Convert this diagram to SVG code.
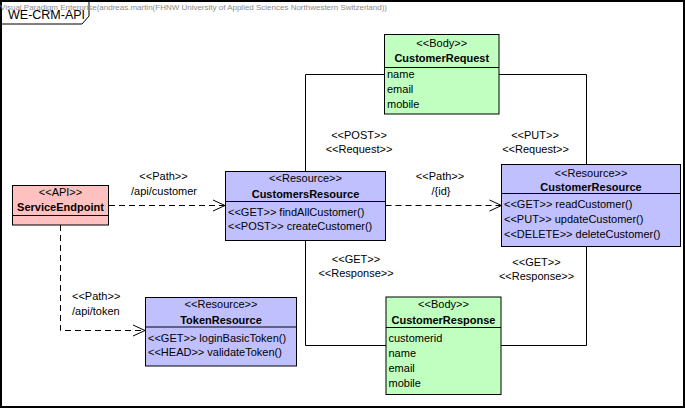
<svg xmlns="http://www.w3.org/2000/svg" width="685" height="408" viewBox="0 0 685 408">
  <style>
    text { font-family: "Liberation Sans", Arial, sans-serif; font-size: 11px; fill: #000; }
    .c { text-anchor: middle; }
    .b { font-weight: bold; }
    .box { stroke: #000; stroke-width: 1; }
    .api { fill: #ffc0c0; }
    .res { fill: #c0c0ff; }
    .body { fill: #c0ffc0; }
    .sep { stroke: #000; stroke-width: 1; }
    .assoc { fill: none; stroke: #000; stroke-width: 1; }
    .dep { fill: none; stroke: #000; stroke-width: 1; stroke-dasharray: 6 4; marker-end: url(#open); }
    .wm { font-size: 7.5px; fill: #8c8c8c; }
  </style>
  <defs>
    <marker id="open" markerUnits="userSpaceOnUse" markerWidth="14" markerHeight="13" viewBox="-1 -1 14 13" refX="12" refY="5.5" orient="auto">
      <path d="M0,0 L12,5.5 L0,11" fill="none" stroke="#000" stroke-width="1" stroke-dasharray="none"/>
    </marker>
  </defs>

  <rect width="685" height="408" fill="#fff"/>

  <!-- package frame and its name tab -->
  <g id="frame">
    <rect x="1" y="1" width="683" height="406" fill="none" stroke="#000" stroke-width="2"/>
    <polyline points="1,24 82,24 89,16 89,1" fill="none" stroke="#000" stroke-width="1"/>
    <text x="8" y="18.5" style="font-size:12.5px">WE-CRM-API</text>
  </g>
  <text class="wm" x="0" y="10" textLength="387" lengthAdjust="spacingAndGlyphs">Visual Paradigm Enterprise(andreas.martin(FHNW University of Applied Sciences Northwestern Switzerland))</text>

  <!-- connectors -->
  <g id="connectors">
    <path class="assoc" d="M305.5,171.5 V74.5 H384.5"/>
    <path class="assoc" d="M499,74.5 H586.5 V164.5"/>
    <path class="assoc" d="M305.5,241 V345.5 H386"/>
    <path class="assoc" d="M586.5,247 V345.5 H501"/>
    <path class="dep" d="M109,205.5 H225"/>
    <path class="dep" d="M385.5,205.5 H501.5"/>
    <path class="dep" d="M60.5,225 V330.5 H145"/>

    <text class="c" x="163.5" y="180">&lt;&lt;Path&gt;&gt;</text>
    <text class="c" x="164" y="195">/api/customer</text>
    <text class="c" x="440" y="180">&lt;&lt;Path&gt;&gt;</text>
    <text class="c" x="441" y="195">/{id}</text>
    <text x="72" y="300">&lt;&lt;Path&gt;&gt;</text>
    <text x="72" y="315">/api/token</text>
    <text class="c" x="359" y="139">&lt;&lt;POST&gt;&gt;</text>
    <text class="c" x="359" y="153">&lt;&lt;Request&gt;&gt;</text>
    <text class="c" x="535" y="139">&lt;&lt;PUT&gt;&gt;</text>
    <text class="c" x="535.5" y="153">&lt;&lt;Request&gt;&gt;</text>
    <text class="c" x="356" y="262.5">&lt;&lt;GET&gt;&gt;</text>
    <text class="c" x="356" y="276.5">&lt;&lt;Response&gt;&gt;</text>
    <text class="c" x="536.5" y="265.5">&lt;&lt;GET&gt;&gt;</text>
    <text class="c" x="536.5" y="279.5">&lt;&lt;Response&gt;&gt;</text>
  </g>

  <!-- nodes -->
  <g id="ServiceEndpoint">
    <rect class="box api" x="12.5" y="185.5" width="96" height="39.5"/>
    <line class="sep" x1="12.5" y1="215.5" x2="108.5" y2="215.5"/>
    <text class="c" x="60.5" y="195.5">&lt;&lt;API&gt;&gt;</text>
    <text class="c b" x="60.5" y="211">ServiceEndpoint</text>
  </g>

  <g id="CustomersResource">
    <rect class="box res" x="225.5" y="171.5" width="160" height="69"/>
    <line class="sep" x1="225.5" y1="201.5" x2="385.5" y2="201.5"/>
    <text class="c" x="305.5" y="182">&lt;&lt;Resource&gt;&gt;</text>
    <text class="c b" x="305.5" y="197.5">CustomersResource</text>
    <text x="228" y="215.5">&lt;&lt;GET&gt;&gt; findAllCustomer()</text>
    <text x="228" y="230">&lt;&lt;POST&gt;&gt; createCustomer()</text>
  </g>

  <g id="CustomerRequest">
    <rect class="box body" x="384.5" y="34.5" width="114.5" height="79.5"/>
    <line class="sep" x1="384.5" y1="67.5" x2="499" y2="67.5"/>
    <text class="c" x="441.75" y="46.5">&lt;&lt;Body&gt;&gt;</text>
    <text class="c b" x="441.75" y="62">CustomerRequest</text>
    <text x="387" y="77.5">name</text>
    <text x="387" y="92.5">email</text>
    <text x="387" y="107.5">mobile</text>
  </g>

  <g id="CustomerResource">
    <rect class="box res" x="501.5" y="164.5" width="179" height="82"/>
    <line class="sep" x1="501.5" y1="193.5" x2="680.5" y2="193.5"/>
    <text class="c" x="591" y="176.5">&lt;&lt;Resource&gt;&gt;</text>
    <text class="c b" x="591" y="190.5">CustomerResource</text>
    <text x="504" y="207.5">&lt;&lt;GET&gt;&gt; readCustomer()</text>
    <text x="504" y="223">&lt;&lt;PUT&gt;&gt; updateCustomer()</text>
    <text x="504" y="238">&lt;&lt;DELETE&gt;&gt; deleteCustomer()</text>
  </g>

  <g id="TokenResource">
    <rect class="box res" x="145.5" y="297.5" width="151" height="68.5"/>
    <line class="sep" x1="145.5" y1="327" x2="296.5" y2="327"/>
    <text class="c" x="221" y="307.5">&lt;&lt;Resource&gt;&gt;</text>
    <text class="c b" x="221" y="323.5">TokenResource</text>
    <text x="148" y="342">&lt;&lt;GET&gt;&gt; loginBasicToken()</text>
    <text x="148" y="356">&lt;&lt;HEAD&gt;&gt; validateToken()</text>
  </g>

  <g id="CustomerResponse">
    <rect class="box body" x="386" y="297" width="115" height="97.5"/>
    <line class="sep" x1="386" y1="327.5" x2="501" y2="327.5"/>
    <text class="c" x="443.5" y="307.5">&lt;&lt;Body&gt;&gt;</text>
    <text class="c b" x="443.5" y="324">CustomerResponse</text>
    <text x="388.5" y="341.5">customerid</text>
    <text x="388.5" y="356.5">name</text>
    <text x="388.5" y="371.5">email</text>
    <text x="388.5" y="386.5">mobile</text>
  </g>
</svg>
